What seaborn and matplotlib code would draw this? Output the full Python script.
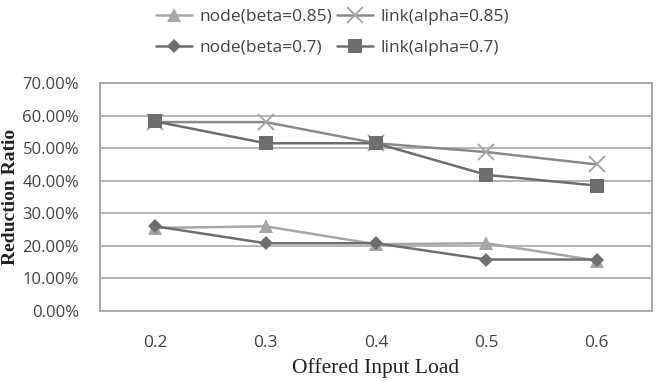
import numpy as np
import pandas as pd
import matplotlib
matplotlib.use("Agg")
import matplotlib.pyplot as plt
import seaborn as sns

# Значения
loads = [0.2, 0.3, 0.4, 0.5, 0.6]
node_085 = [25.5, 26.0, 20.5, 20.8, 15.5]
link_085 = [58.0, 58.0, 51.5, 48.8, 45.0]
node_07 = [26.0, 20.8, 20.8, 15.8, 15.8]
link_07 = [58.2, 51.5, 51.5, 41.8, 38.5]

series = ["node(beta=0.85)", "node(beta=0.7)", "link(alpha=0.85)", "link(alpha=0.7)"]
values = [node_085, node_07, link_085, link_07]

df = pd.DataFrame({
    "load": loads * 4,
    "ratio": np.concatenate(values),
    "series": np.repeat(series, len(loads)),
})

sns.set_theme(style="white")
plt.rcParams["font.family"] = ["Open Sans", "DejaVu Sans"]

palette = {
    "node(beta=0.85)": "#a6a6a6",
    "node(beta=0.7)": "#6e6e6e",
    "link(alpha=0.85)": "#8a8a8a",
    "link(alpha=0.7)": "#6e6e6e",
}
markers = {
    "node(beta=0.85)": "^",
    "node(beta=0.7)": "D",
    "link(alpha=0.85)": "x",
    "link(alpha=0.7)": "s",
}
sizes = {"node(beta=0.85)": 9.5, "node(beta=0.7)": 7, "link(alpha=0.85)": 11, "link(alpha=0.7)": 10.5}

fig = plt.figure(figsize=(6.69, 3.81), dpi=100)
ax = fig.add_axes([0.1495, 1 - 311 / 381, 0.825, 228 / 381])

handles = []
for s in series:
    sub = df[df["series"] == s]
    sns.lineplot(data=sub, x="load", y="ratio", ax=ax, color=palette[s],
                 marker=markers[s], markersize=sizes[s], linewidth=1.8,
                 markeredgewidth=1.4 if s == "link(alpha=0.85)" else 0,
                 markeredgecolor="#a6a6a6" if s == "link(alpha=0.85)" else palette[s],
                 label=s, legend=False)
    handles.append(ax.lines[-1])

ax.set_xlim(0.15, 0.65)
ax.set_ylim(0, 70)
ax.set_xticks(loads)
ax.set_xticklabels([f"{v:.1f}" for v in loads])
ax.set_yticks(np.arange(0, 71, 10))
ax.set_yticklabels([f"{v:.2f}%" for v in np.arange(0, 71, 10)])
ax.yaxis.grid(True, color="#a8a8a8", linewidth=1.2)
ax.set_axisbelow(True)
for sp in ax.spines.values():
    sp.set_color("#a8a8a8")
    sp.set_linewidth(1.4)
ax.tick_params(axis="x", length=0, pad=17, labelsize=12.5, labelcolor="#444444")
ax.tick_params(axis="y", length=0, pad=15, labelsize=12, labelcolor="#444444")

ax.set_xlabel("Offered Input Load", family="Liberation Serif", fontsize=15.5, color="#222222")
ax.xaxis.set_label_coords(0.5, -(358 - 311) / 228)
ax.set_ylabel("Reduction Ratio", family="Liberation Serif", fontsize=14, fontweight="bold",
              color="#222222")
ax.yaxis.set_label_coords(-(100 - 19) / 552, 0.5)

fig.legend(handles=handles, labels=series, ncol=2, loc="upper left",
           bbox_to_anchor=(147 / 669, 1.0), frameon=False, fontsize=12.5, borderpad=0,
           handlelength=2.1, columnspacing=0.3, handletextpad=0.4, labelspacing=0.85,
           labelcolor="#444444")

fig.savefig("out.png", dpi=100)
